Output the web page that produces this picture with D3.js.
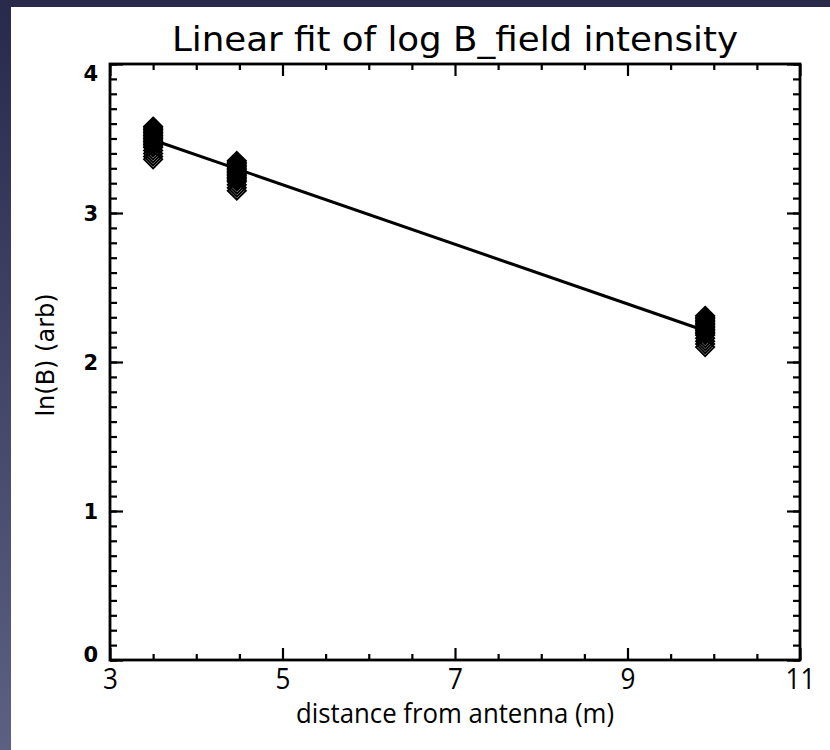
<!DOCTYPE html>
<html>
<head>
<meta charset="utf-8">
<script src="https://cdn.jsdelivr.net/npm/d3@7"></script>
<style>
  body{margin:0;padding:0;}
  svg{display:block;}
</style>
</head>
<body>
<script>
// values
var xTicks=[3,5,7,9,11]
var yTicks=[0,1,2,3,4]
var distances=[3.5,4.47,9.9]
var lnB1=[3.58,3.57,3.56,3.55,3.54,3.53,3.52,3.51,3.50,3.49,3.48,3.47,3.46,3.45,3.44,3.42,3.40,3.38,3.36]
var lnB2=[3.35,3.34,3.33,3.32,3.31,3.30,3.29,3.28,3.27,3.26,3.25,3.24,3.23,3.22,3.21,3.19,3.17,3.15]
var lnB3=[2.31,2.30,2.29,2.28,2.27,2.26,2.25,2.24,2.23,2.22,2.21,2.20,2.19,2.18,2.16,2.14,2.12,2.10]
var fitX=[3.5,9.9]
var fitY=[3.49,2.21]

var W=830,H=750
var plot={left:110,right:800,top:64,bottom:660}

var svg=d3.select("body").append("svg")
          .attr("width",W)
          .attr("height",H)

var defs=svg.append("defs")
var grad=defs.append("linearGradient")
             .attr("id","bg")
             .attr("x1",0).attr("y1",0).attr("x2",0).attr("y2",1)
grad.append("stop").attr("offset","0").attr("stop-color","#292a49")
grad.append("stop").attr("offset","1").attr("stop-color","#5c6180")

svg.append("rect").attr("width",W).attr("height",H).attr("fill","url(#bg)")
svg.append("rect")
   .attr("x",11).attr("y",7)
   .attr("width",W-11).attr("height",H-7)
   .attr("fill","white")

var x=d3.scaleLinear().domain([3,11]).range([plot.left,plot.right])
var y=d3.scaleLinear().domain([0,4]).range([plot.bottom,plot.top])

var xMinor=d3.range(3,11.01,0.5).filter(function(d){return d%2!=1})
var yMinor=d3.range(0,4.001,0.1).map(function(d){return Math.round(d*10)/10})

function styleAxis(g){
  g.select(".domain").remove()
  g.selectAll(".tick line").attr("stroke","black").attr("stroke-width",2.2)
}

// minor ticks
svg.append("g").attr("transform","translate(0,"+plot.bottom+")")
   .call(d3.axisBottom(x).tickValues(xMinor).tickSize(-6).tickFormat(""))
   .call(styleAxis)
svg.append("g").attr("transform","translate(0,"+plot.top+")")
   .call(d3.axisTop(x).tickValues(xMinor).tickSize(-6).tickFormat(""))
   .call(styleAxis)
svg.append("g").attr("transform","translate("+plot.left+",0)")
   .call(d3.axisLeft(y).tickValues(yMinor).tickSize(-7).tickFormat(""))
   .call(styleAxis)
svg.append("g").attr("transform","translate("+plot.right+",0)")
   .call(d3.axisRight(y).tickValues(yMinor).tickSize(-7).tickFormat(""))
   .call(styleAxis)

// major ticks
var xb=svg.append("g").attr("transform","translate(0,"+plot.bottom+")")
   .call(d3.axisBottom(x).tickValues(xTicks).tickSize(-12).tickPadding(6))
   .call(styleAxis)
xb.selectAll("text")
  .attr("font-family","'Open Sans',sans-serif")
  .attr("font-size",29)
  .attr("fill","black")
  .attr("dy","0.78em")
  .attr("x",0)
  .attr("transform","scale(0.9,1)")
svg.append("g").attr("transform","translate(0,"+plot.top+")")
   .call(d3.axisTop(x).tickValues(xTicks).tickSize(-12).tickFormat(""))
   .call(styleAxis)
var yl=svg.append("g").attr("transform","translate("+plot.left+",0)")
   .call(d3.axisLeft(y).tickValues(yTicks).tickSize(-13).tickPadding(12).tickFormat(d3.format("d")))
   .call(styleAxis)
// end labels sit inside the frame
yl.selectAll("text")
  .attr("font-family","'DejaVu Sans',sans-serif")
  .attr("font-weight","bold")
  .attr("font-size",21)
  .attr("fill","black")
  .attr("dy",function(d){
    if(d==4){return "0.8em"}
    else if(d==0){return "0.05em"}
    else{return "0.36em"}
  })
svg.append("g").attr("transform","translate("+plot.right+",0)")
   .call(d3.axisRight(y).tickValues(yTicks).tickSize(-13).tickFormat(""))
   .call(styleAxis)

// frame
svg.append("rect")
   .attr("x",plot.left).attr("y",plot.top)
   .attr("width",plot.right-plot.left).attr("height",plot.bottom-plot.top)
   .attr("fill","none")
   .attr("stroke","black")
   .attr("stroke-width",2.8)

// data diamonds
var pts=[]
;[lnB1,lnB2,lnB3].forEach(function(arr,i){
  arr.forEach(function(v){pts.push({d:distances[i],v:v})})
})
var s=9
svg.append("g").selectAll("path.pt")
   .data(pts)
   .enter()
   .append("path")
   .attr("class","pt")
   .attr("d","M0,"+(-s)+"L"+s+",0L0,"+s+"L"+(-s)+",0Z")
   .attr("transform",function(d){return "translate("+x(d.d)+","+y(d.v)+")"})
   .attr("fill","none")
   .attr("stroke","black")
   .attr("stroke-width",2)

// fit line
svg.append("path")
   .datum(d3.zip(fitX,fitY))
   .attr("d",d3.line().x(function(d){return x(d[0])}).y(function(d){return y(d[1])}))
   .attr("fill","none")
   .attr("stroke","black")
   .attr("stroke-width",3)

// titles
svg.append("text")
   .attr("x",(plot.left+plot.right)/2)
   .attr("y",51)
   .attr("text-anchor","middle")
   .attr("font-family","'DejaVu Sans Condensed','DejaVu Sans',sans-serif")
   .attr("font-size",33)
   .attr("textLength",566)
   .attr("lengthAdjust","spacingAndGlyphs")
   .text("Linear fit of log B_field intensity")
svg.append("text")
   .attr("x",(plot.left+plot.right)/2)
   .attr("y",723)
   .attr("text-anchor","middle")
   .attr("font-family","'Open Sans',sans-serif")
   .attr("font-size",27)
   .attr("textLength",318)
   .attr("lengthAdjust","spacingAndGlyphs")
   .text("distance from antenna (m)")
svg.append("text")
   .attr("transform","translate(54,355) rotate(-90)")
   .attr("text-anchor","middle")
   .attr("font-family","'DejaVu Sans',sans-serif")
   .attr("font-size",24)
   .text("ln(B)  (arb)")
</script>
</body>
</html>
